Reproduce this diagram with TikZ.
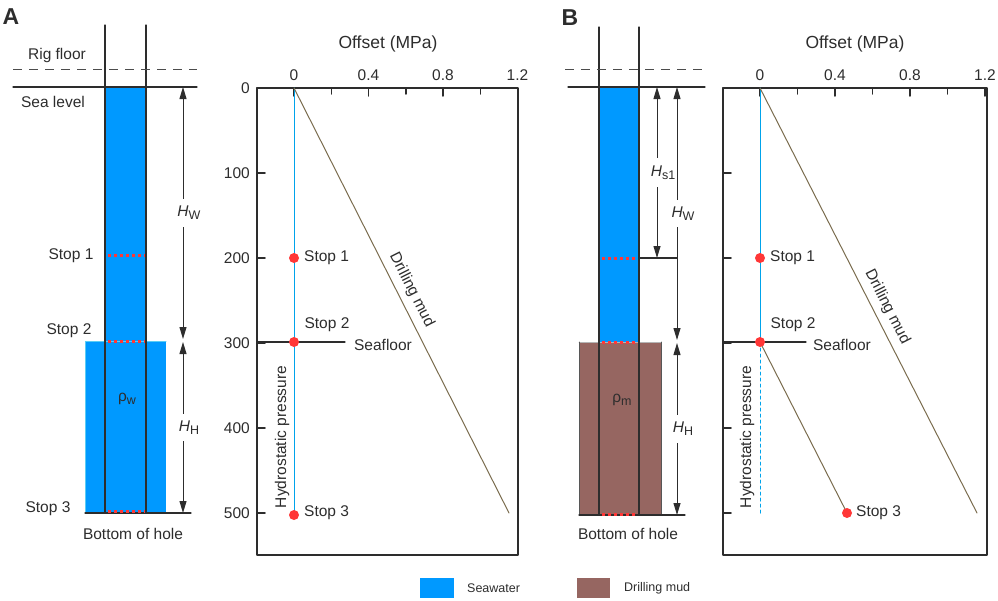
\documentclass[tikz,border=0pt]{standalone}
\usepackage{fontspec}
\setmainfont{Liberation Sans}
\usetikzlibrary{arrows.meta}
\definecolor{seawater}{RGB}{0,153,255}
\definecolor{holeedge}{RGB}{90,205,245}
\definecolor{mudfill}{RGB}{150,102,97}
\definecolor{mudline}{RGB}{122,108,78}
\definecolor{hydroline}{RGB}{0,163,235}
\definecolor{stopred}{RGB}{255,55,55}
\definecolor{ink}{RGB}{45,45,45}
\newcommand{\lowidx}[1]{\raisebox{-0.4ex}{\fontsize{12.5}{13}\selectfont #1}}

\begin{document}
\begin{tikzpicture}[line cap=round,line join=round,>={Triangle[length=12pt,width=7pt]},x=1pt,y=-1pt,
	every node/.style={font=\fontsize{15.5}{17}\selectfont,text=ink,inner sep=1pt},
	wall/.style={line width=1.1pt,color=ink},
	rigline/.style={line width=1pt,color=ink!85,dash pattern=on 9pt off 7pt,line cap=butt},
	stopline/.style={line width=3pt,color=stopred,dash pattern=on 3pt off 3pt,line cap=butt},
	stopdot/.style={circle,fill=stopred,inner sep=0pt,minimum size=10pt},
	dimline/.style={line width=1pt,color=ink},
	dimlabel/.style={fill=white,inner xsep=1pt,inner ysep=7pt,xshift=6pt},
	axisframe/.style={line width=1.5pt,color=ink},
	hydro/.style={line width=1pt,color=hydroline},
	mud/.style={line width=1pt,color=mudline},
	paneltitle/.style={font=\fontsize{23}{25}\selectfont\bfseries},
	axistitle/.style={font=\fontsize{17.5}{19}\selectfont},
	legendtext/.style={font=\fontsize{12.5}{14}\selectfont,anchor=west}]
	\useasboundingbox (0,0) rectangle (998,600);

	% panel A, open hole in seawater
	\node[paneltitle] (titleA) at (11,17) {A};
	\fill[seawater] (105,87) rectangle (146,513);
	\fill[seawater] (85,341) rectangle (166,513);
	\draw[line width=1pt,color=holeedge] (85,513) -- (85,341) -- (166,341);
	\draw[wall] (105,25) -- (105,513);
	\draw[wall] (146,25) -- (146,513);
	\draw[rigline] (13,69) -- (197,69);
	\draw[wall] (13,87) -- (197,87);
	\draw[wall] (85,513) -- (191,513);
	\draw[stopline] (108,255) -- (145,255);
	\draw[stopline] (108,341) -- (145,341);
	\draw[stopline] (108,511) -- (145,511);
	\node (rigA) at (57,55) {Rig floor};
	\node (seaA) at (53,102) {Sea level};
	\node (stopA1) at (71,256) {Stop 1};
	\node (stopA2) at (69,331) {Stop 2};
	\node (stopA3) at (48,509) {Stop 3};
	\node (rhoA) at (127,399) {ρ\lowidx{w}};
	\node (botA) at (133,534) {Bottom of hole};
	\coordinate (hwA1) at (183,87);
	\coordinate (hwA2) at (183,339);
	\coordinate (hhA1) at (183,342);
	\coordinate (hhA2) at (183,513);
	\draw[dimline,<->] (hwA1) -- (hwA2) node[midway,dimlabel] (hwA) {\textit{H}\lowidx{W}};
	\draw[dimline,<->] (hhA1) -- (hhA2) node[midway,dimlabel] (hhA) {\textit{H}\lowidx{H}};

	% plot A
	\node[axistitle] (offA) at (388,44) {Offset (MPa)};
	\foreach \p in {0,0.4,0.8,1.2} {
		\draw[axisframe] ({294+\p*186.25},88) -- ++(0,8);
		\node at ({294+\p*186.25},75) {\p};
	}
	\foreach \p in {0.2,0.6,1.0}
		\draw[axisframe] ({294+\p*186.25},88) -- ++(0,6);
	\foreach \d in {0,100,...,500} {
		\draw[axisframe] (257,{88+\d*0.85}) -- ++(8,0);
		\node[anchor=east] at (251,{88+\d*0.85}) {\d};
	}
	\draw[axisframe] (257,88) rectangle (518,555);
	\coordinate (topA) at (294,88);
	\coordinate (baseA) at (294,513);
	\coordinate (mudA) at (509,513);
	\coordinate (sfA1) at (257,342);
	\coordinate (sfA2) at (345,342);
	\draw[hydro] (topA) -- (baseA);
	\draw[mud] (topA) -- (mudA) node[pos=0.49,sloped,above=5pt] (mudlabA) {Drilling mud};
	\draw[wall] (sfA1) -- (sfA2);
	\node[stopdot] (dotA1) at (294,258) {};
	\node[stopdot] (dotA2) at (294,342) {};
	\node[stopdot] (dotA3) at (294,515) {};
	\node[anchor=west] (pA1) at (303,258) {Stop 1};
	\node (pA2) at (327,325) {Stop 2};
	\node[anchor=west] (pA3) at (303,513) {Stop 3};
	\node (floorA) at (383,345) {Seafloor};
	\node[rotate=90] (hydA) at (282,437) {Hydrostatic pressure};

	% panel B, mud below seafloor
	\node[paneltitle] (titleB) at (570,18) {B};
	\fill[seawater] (599,87) rectangle (639,342);
	\fill[mudfill] (579,342) rectangle (661,515);
	\draw[line width=1pt,color=ink!35] (579,342) -- (661,342);
	\draw[line width=1pt,color=ink!80] (579,342) -- (579,515);
	\draw[line width=1pt,color=ink!80] (661,342) -- (661,515);
	\draw[wall] (599,27) -- (599,515);
	\draw[wall] (639,27) -- (639,515);
	\draw[rigline] (565,69) -- (705,69);
	\draw[wall] (568,87) -- (705,87);
	\draw[wall] (579,515) -- (685,515);
	\draw[wall] (639,258) -- (677,258);
	\draw[stopline] (602,258) -- (638,258);
	\draw[stopline] (602,342) -- (638,342);
	\draw[stopline] (602,514) -- (638,514);
	\node (rhoB) at (622,400) {ρ\lowidx{m}};
	\node (botB) at (628,534) {Bottom of hole};
	\coordinate (hsB1) at (657,87);
	\coordinate (hsB2) at (657,258);
	\coordinate (hwB1) at (677,87);
	\coordinate (hwB2) at (677,340);
	\coordinate (hhB1) at (677,343);
	\coordinate (hhB2) at (677,515);
	\draw[dimline,<->] (hsB1) -- (hsB2) node[midway,dimlabel] (hsB) {\textit{H}\lowidx{s1}};
	\draw[dimline,<->] (hwB1) -- (hwB2) node[midway,dimlabel] (hwB) {\textit{H}\lowidx{W}};
	\draw[dimline,<->] (hhB1) -- (hhB2) node[midway,dimlabel] (hhB) {\textit{H}\lowidx{H}};

	% plot B
	\node[axistitle] (offB) at (855,44) {Offset (MPa)};
	\foreach \p in {0,0.4,0.8,1.2} {
		\draw[axisframe] ({760+\p*187.5},88) -- ++(0,8);
		\node at ({760+\p*187.5},75) {\p};
	}
	\foreach \p in {0.2,0.6,1.0}
		\draw[axisframe] ({760+\p*187.5},88) -- ++(0,6);
	\foreach \d in {0,100,...,500}
		\draw[axisframe] (723,{88+\d*0.85}) -- ++(8,0);
	\draw[axisframe] (723,88) rectangle (987,555);
	\coordinate (topB) at (760,88);
	\coordinate (floorptB) at (760,342);
	\coordinate (baseB) at (760,515);
	\coordinate (mudB) at (977,513);
	\coordinate (stopptB) at (847,513);
	\coordinate (sfB1) at (723,342);
	\coordinate (sfB2) at (806,342);
	\draw[hydro] (topB) -- (floorptB);
	\draw[hydro,dashed] (floorptB) -- (baseB);
	\draw[mud] (topB) -- (mudB) node[pos=0.53,sloped,above=5pt] (mudlabB) {Drilling mud};
	\draw[mud] (floorptB) -- (stopptB);
	\draw[wall] (sfB1) -- (sfB2);
	\node[stopdot] (dotB1) at (760,258) {};
	\node[stopdot] (dotB2) at (floorptB) {};
	\node[stopdot] (dotB3) at (stopptB) {};
	\node[anchor=west] (pB1) at (769,258) {Stop 1};
	\node (pB2) at (793,325) {Stop 2};
	\node[anchor=west] (pB3) at (855,513) {Stop 3};
	\node (floorB) at (842,345) {Seafloor};
	\node[rotate=90] (hydB) at (747,437) {Hydrostatic pressure};

	% legend
	\fill[seawater] (420,578) rectangle (454,598);
	\node[legendtext] (legsea) at (466,588) {Seawater};
	\fill[mudfill] (577,578) rectangle (610,598);
	\node[legendtext] (legmud) at (623,588) {Drilling mud};
\end{tikzpicture}
\end{document}
